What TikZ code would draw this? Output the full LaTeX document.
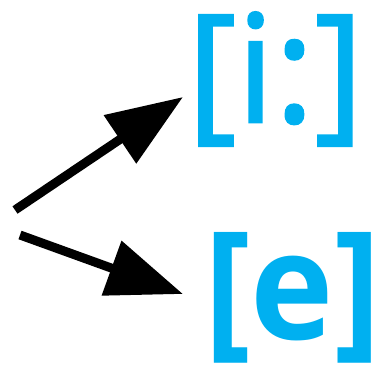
\documentclass[tikz,border=0pt]{standalone}
\usepackage{fontspec}
\setmainfont{Open Sans}
\newfontfamily\ipasemi[FakeBold=1.5]{Open Sans}
\usetikzlibrary{arrows.meta}
\definecolor{phoneblue}{RGB}{0,176,240}
\tikzstyle{sound} = [inner sep=0pt, text=phoneblue]
\tikzstyle{arrow} = [line width=9pt, -{Triangle[length=76pt, width=56pt]}]

\begin{document}
\begin{tikzpicture}[x=1pt, y=1pt]
    \useasboundingbox (0,0) rectangle (380,368);

    \node (long) [sound, anchor=west, font=\fontsize{150}{150}\ipasemi] at (187,289) {[i:]};
    \node (short) [sound, anchor=west, font=\fontsize{150}{150}\selectfont\bfseries, xscale=0.94, transform shape] at (204,70) {[e]};
    \coordinate (from1) at (15,158);
    \coordinate (from2) at (20,133);

    \draw[arrow] (from1) -- ([shift={(-4,-18)}]long.west);
    \draw[arrow] (from2) -- ([shift={(-21,4)}]short.west);

\end{tikzpicture}
\end{document}
